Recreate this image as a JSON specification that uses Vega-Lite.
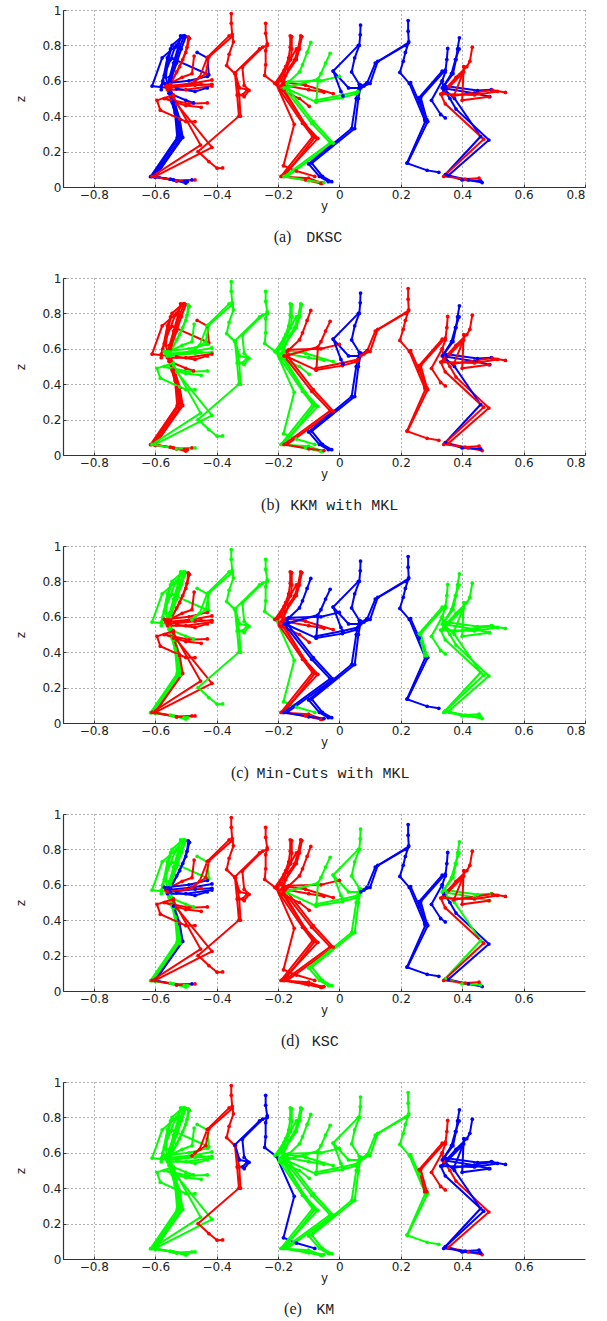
{"$schema":"https://vega.github.io/schema/vega-lite/v6.json","background":"white","padding":{"left":14,"top":4,"right":0,"bottom":40},"bounds":"flush","spacing":91,"config":{"view":{"stroke":null},"axis":{"grid":true,"gridColor":"#666666","gridDash":[1,3],"gridWidth":1,"domainColor":"#333333","domainWidth":1.2,"tickColor":"#333333","tickSize":-3,"labelFont":"DejaVu Sans","labelFontSize":12,"labelColor":"#222222","labelOverlap":false,"labelSeparation":0,"titleFont":"DejaVu Sans","titleFontSize":12,"titleFontWeight":"normal","titleColor":"#222222","labelPadding":5}},
"datasets":{
"colors":[
{"s":"L1","a":"b","b":"r","c":"g","d":"g","e":"g"},{"s":"L1b","a":"b","b":"r","c":"g","d":"g","e":"g"},{"s":"L1c","a":"b","b":"r","c":"g","d":"g","e":"g"},{"s":"L1d","a":"b","b":"r","c":"g","d":"g","e":"g"},{"s":"L1e","a":"b","b":"r","c":"g","d":"g","e":"g"},{"s":"L1f","a":"b","b":"r","c":"g","d":"g","e":"g"},{"s":"L1arm","a":"b","b":"r","c":"g","d":"g","e":"g"},{"s":"L1arm2","a":"b","b":"r","c":"g","d":"g","e":"g"},{"s":"L1hand","a":"b","b":"r","c":"g","d":"g","e":"g"},{"s":"L1low","a":"b","b":"r","c":"g","d":"g","e":"g"},
{"s":"L2","a":"r","b":"g","c":"r","d":"b","e":"g"},{"s":"L2c","a":"r","b":"g","c":"r","d":"b","e":"g"},{"s":"L2b","a":"b","b":"r","c":"r","d":"b","e":"g"},{"s":"L3","a":"r","b":"g","c":"r","d":"r","e":"g"},
{"s":"LA1","a":"b","b":"g","c":"r","d":"b","e":"g"},{"s":"LA2","a":"r","b":"g","c":"r","d":"b","e":"g"},{"s":"LA3","a":"r","b":"g","c":"r","d":"b","e":"g"},{"s":"LA4","a":"r","b":"r","c":"r","d":"b","e":"g"},{"s":"LA5","a":"b","b":"r","c":"r","d":"b","e":"g"},{"s":"LA6","a":"r","b":"g","c":"r","d":"r","e":"g"},
{"s":"LB1","a":"r","b":"g","c":"r","d":"r","e":"g"},{"s":"LB2","a":"r","b":"g","c":"r","d":"r","e":"g"},{"s":"LB3","a":"r","b":"g","c":"r","d":"r","e":"g"},
{"s":"LL1","a":"r","b":"g","c":"r","d":"r","e":"g"},{"s":"LL2","a":"r","b":"g","c":"r","d":"r","e":"g"},
{"s":"P35","a":"r","b":"g","c":"g","d":"r","e":"r"},{"s":"P35b","a":"r","b":"g","c":"g","d":"r","e":"r"},{"s":"P35arm","a":"r","b":"g","c":"g","d":"r","e":"r"},{"s":"P35arm2","a":"r","b":"g","c":"g","d":"r","e":"r"},
{"s":"P24","a":"r","b":"g","c":"g","d":"r","e":"b"},{"s":"P24arm","a":"r","b":"g","c":"g","d":"r","e":"b"},{"s":"P24arm2","a":"r","b":"g","c":"g","d":"r","e":"b"},
{"s":"C16","a":"r","b":"g","c":"r","d":"r","e":"g"},{"s":"C16b","a":"r","b":"g","c":"r","d":"r","e":"g"},{"s":"C16c","a":"r","b":"g","c":"r","d":"r","e":"g"},{"s":"C12","a":"r","b":"g","c":"r","d":"r","e":"g"},{"s":"C12b","a":"r","b":"g","c":"r","d":"r","e":"g"},{"s":"C12c","a":"r","b":"g","c":"r","d":"r","e":"g"},{"s":"CA1","a":"r","b":"g","c":"r","d":"r","e":"g"},{"s":"CA2","a":"r","b":"g","c":"r","d":"r","e":"g"},{"s":"CA3","a":"r","b":"g","c":"r","d":"r","e":"g"},
{"s":"C09","a":"g","b":"r","c":"b","d":"r","e":"g"},{"s":"C09b","a":"g","b":"r","c":"b","d":"r","e":"g"},{"s":"C09arm","a":"g","b":"r","c":"b","d":"r","e":"g"},
{"s":"C03","a":"g","b":"r","c":"b","d":"g","e":"g"},{"s":"C03b","a":"g","b":"r","c":"b","d":"g","e":"g"},{"s":"C03arm","a":"g","b":"r","c":"b","d":"g","e":"g"},{"s":"C03armb","a":"g","b":"r","c":"b","d":"g","e":"g"},
{"s":"C06","a":"b","b":"b","c":"b","d":"g","e":"g"},{"s":"C06b","a":"b","b":"b","c":"b","d":"g","e":"g"},{"s":"C06arm","a":"b","b":"b","c":"b","d":"g","e":"g"},{"s":"C06arm2","a":"b","b":"b","c":"b","d":"g","e":"g"},
{"s":"R22","a":"b","b":"r","c":"b","d":"b","e":"g"},{"s":"R22b","a":"b","b":"r","c":"b","d":"b","e":"g"},{"s":"R22arm","a":"b","b":"r","c":"b","d":"b","e":"g"},{"s":"R22armb","a":"b","b":"r","c":"b","d":"b","e":"g"},
{"s":"R36","a":"b","b":"r","c":"g","d":"b","e":"r"},{"s":"R36arm","a":"b","b":"r","c":"g","d":"b","e":"r"},{"s":"R36armb","a":"b","b":"r","c":"g","d":"b","e":"r"},{"s":"R36arm2","a":"b","b":"r","c":"g","d":"b","e":"r"},
{"s":"R39","a":"b","b":"b","c":"g","d":"g","e":"b"},{"s":"R39b","a":"b","b":"b","c":"g","d":"g","e":"b"},{"s":"R39arm","a":"b","b":"b","c":"g","d":"g","e":"b"},{"s":"R39armb","a":"b","b":"b","c":"g","d":"g","e":"b"},
{"s":"R43","a":"r","b":"r","c":"g","d":"r","e":"b"},{"s":"R43arm","a":"r","b":"r","c":"g","d":"r","e":"b"},{"s":"R43armb","a":"r","b":"r","c":"g","d":"r","e":"b"},{"s":"R43armc","a":"r","b":"r","c":"g","d":"r","e":"b"}
],
"caps":[
{"p":"a","f":"s","x":-0.214,"y":-0.283,"t":"(a)"},{"p":"a","f":"m","x":-0.108,"y":-0.283,"t":"DKSC"},
{"p":"b","f":"s","x":-0.255,"y":-0.283,"t":"(b)"},{"p":"b","f":"m","x":-0.16,"y":-0.283,"t":"KKM with MKL"},
{"p":"c","f":"s","x":-0.353,"y":-0.283,"t":"(c)"},{"p":"c","f":"m","x":-0.27,"y":-0.283,"t":"Min-Cuts with MKL"},
{"p":"d","f":"s","x":-0.19,"y":-0.283,"t":"(d)"},{"p":"d","f":"m","x":-0.09,"y":-0.283,"t":"KSC"},
{"p":"e","f":"s","x":-0.18,"y":-0.283,"t":"(e)"},{"p":"e","f":"m","x":-0.075,"y":-0.283,"t":"KM"}
],
"pts":[
{"s":"L1","i":0,"x":-0.517,"y":0.854},{"s":"L1","i":1,"x":-0.525,"y":0.79},{"s":"L1","i":2,"x":-0.54,"y":0.7},{"s":"L1","i":3,"x":-0.553,"y":0.62},{"s":"L1","i":4,"x":-0.56,"y":0.565},{"s":"L1","i":5,"x":-0.545,"y":0.48},{"s":"L1","i":6,"x":-0.53,"y":0.38},{"s":"L1","i":7,"x":-0.523,"y":0.278},{"s":"L1","i":8,"x":-0.61,"y":0.06},{"s":"L1","i":9,"x":-0.54,"y":0.04},{"s":"L1","i":10,"x":-0.5,"y":0.022},
{"s":"L1b","i":0,"x":-0.505,"y":0.855},{"s":"L1b","i":1,"x":-0.52,"y":0.79},{"s":"L1b","i":2,"x":-0.535,"y":0.7},{"s":"L1b","i":3,"x":-0.548,"y":0.62},{"s":"L1b","i":4,"x":-0.55,"y":0.56},{"s":"L1b","i":5,"x":-0.535,"y":0.47},{"s":"L1b","i":6,"x":-0.52,"y":0.38},{"s":"L1b","i":7,"x":-0.515,"y":0.278},{"s":"L1b","i":8,"x":-0.605,"y":0.06},{"s":"L1b","i":9,"x":-0.53,"y":0.035},{"s":"L1b","i":10,"x":-0.495,"y":0.03},
{"s":"L1c","i":0,"x":-0.512,"y":0.85},{"s":"L1c","i":1,"x":-0.545,"y":0.8},{"s":"L1c","i":2,"x":-0.56,"y":0.7},{"s":"L1c","i":3,"x":-0.565,"y":0.62},{"s":"L1c","i":4,"x":-0.555,"y":0.55},{"s":"L1c","i":5,"x":-0.54,"y":0.47},{"s":"L1c","i":6,"x":-0.525,"y":0.38},{"s":"L1c","i":7,"x":-0.518,"y":0.27},{"s":"L1c","i":8,"x":-0.6,"y":0.055},
{"s":"L1d","i":0,"x":-0.51,"y":0.853},{"s":"L1d","i":1,"x":-0.535,"y":0.79},{"s":"L1d","i":2,"x":-0.55,"y":0.72},{"s":"L1d","i":3,"x":-0.57,"y":0.63},{"s":"L1d","i":4,"x":-0.58,"y":0.57},
{"s":"L1e","i":0,"x":-0.5,"y":0.85},{"s":"L1e","i":1,"x":-0.515,"y":0.78},{"s":"L1e","i":2,"x":-0.53,"y":0.7},{"s":"L1e","i":3,"x":-0.55,"y":0.6},
{"s":"L1f","i":0,"x":-0.56,"y":0.56},{"s":"L1f","i":1,"x":-0.535,"y":0.42},{"s":"L1f","i":2,"x":-0.528,"y":0.28},{"s":"L1f","i":3,"x":-0.615,"y":0.058},{"s":"L1f","i":4,"x":-0.55,"y":0.045},{"s":"L1f","i":5,"x":-0.505,"y":0.03},
{"s":"L1arm","i":0,"x":-0.53,"y":0.8},{"s":"L1arm","i":1,"x":-0.577,"y":0.73},{"s":"L1arm","i":2,"x":-0.61,"y":0.57},{"s":"L1arm","i":3,"x":-0.56,"y":0.56},
{"s":"L1arm2","i":0,"x":-0.55,"y":0.78},{"s":"L1arm2","i":1,"x":-0.56,"y":0.73},{"s":"L1arm2","i":2,"x":-0.575,"y":0.6},{"s":"L1arm2","i":3,"x":-0.58,"y":0.55},
{"s":"L1hand","i":0,"x":-0.545,"y":0.727},{"s":"L1hand","i":1,"x":-0.425,"y":0.634},{"s":"L1hand","i":2,"x":-0.43,"y":0.73},{"s":"L1hand","i":3,"x":-0.463,"y":0.76},
{"s":"L1low","i":0,"x":-0.555,"y":0.53},{"s":"L1low","i":1,"x":-0.5,"y":0.49},{"s":"L1low","i":2,"x":-0.475,"y":0.475},
{"s":"L2","i":0,"x":-0.492,"y":0.848},{"s":"L2","i":1,"x":-0.496,"y":0.79},{"s":"L2","i":2,"x":-0.51,"y":0.72},{"s":"L2","i":3,"x":-0.53,"y":0.65},{"s":"L2","i":4,"x":-0.555,"y":0.57},
{"s":"L2c","i":0,"x":-0.488,"y":0.84},{"s":"L2c","i":1,"x":-0.5,"y":0.76},{"s":"L2c","i":2,"x":-0.52,"y":0.68},{"s":"L2c","i":3,"x":-0.55,"y":0.58},
{"s":"L2b","i":0,"x":-0.54,"y":0.48},{"s":"L2b","i":1,"x":-0.52,"y":0.38},{"s":"L2b","i":2,"x":-0.51,"y":0.28},{"s":"L2b","i":3,"x":-0.6,"y":0.06},{"s":"L2b","i":4,"x":-0.53,"y":0.035},{"s":"L2b","i":5,"x":-0.48,"y":0.04},
{"s":"L3","i":0,"x":-0.473,"y":0.74},{"s":"L3","i":1,"x":-0.48,"y":0.64},{"s":"L3","i":2,"x":-0.512,"y":0.62},{"s":"L3","i":3,"x":-0.566,"y":0.573},
{"s":"LA1","i":0,"x":-0.57,"y":0.585},{"s":"LA1","i":1,"x":-0.49,"y":0.6},{"s":"LA1","i":2,"x":-0.43,"y":0.625},
{"s":"LA2","i":0,"x":-0.56,"y":0.57},{"s":"LA2","i":1,"x":-0.48,"y":0.585},{"s":"LA2","i":2,"x":-0.415,"y":0.605},
{"s":"LA3","i":0,"x":-0.55,"y":0.56},{"s":"LA3","i":1,"x":-0.47,"y":0.575},{"s":"LA3","i":2,"x":-0.415,"y":0.58},
{"s":"LA4","i":0,"x":-0.56,"y":0.55},{"s":"LA4","i":1,"x":-0.5,"y":0.55},{"s":"LA4","i":2,"x":-0.415,"y":0.57},
{"s":"LA5","i":0,"x":-0.53,"y":0.555},{"s":"LA5","i":1,"x":-0.47,"y":0.54},{"s":"LA5","i":2,"x":-0.43,"y":0.56},
{"s":"LA6","i":0,"x":-0.56,"y":0.56},{"s":"LA6","i":1,"x":-0.5,"y":0.575},{"s":"LA6","i":2,"x":-0.45,"y":0.58},
{"s":"LB1","i":0,"x":-0.54,"y":0.52},{"s":"LB1","i":1,"x":-0.594,"y":0.49},{"s":"LB1","i":2,"x":-0.583,"y":0.434},{"s":"LB1","i":3,"x":-0.52,"y":0.385},{"s":"LB1","i":4,"x":-0.5,"y":0.37},{"s":"LB1","i":5,"x":-0.47,"y":0.37},
{"s":"LB2","i":0,"x":-0.57,"y":0.5},{"s":"LB2","i":1,"x":-0.49,"y":0.47},{"s":"LB2","i":2,"x":-0.43,"y":0.475},
{"s":"LB3","i":0,"x":-0.57,"y":0.5},{"s":"LB3","i":1,"x":-0.5,"y":0.46},{"s":"LB3","i":2,"x":-0.45,"y":0.45},
{"s":"LL1","i":0,"x":-0.54,"y":0.508},{"s":"LL1","i":1,"x":-0.452,"y":0.237},{"s":"LL1","i":2,"x":-0.61,"y":0.06},{"s":"LL1","i":3,"x":-0.53,"y":0.035},{"s":"LL1","i":4,"x":-0.47,"y":0.04},
{"s":"LL2","i":0,"x":-0.53,"y":0.47},{"s":"LL2","i":1,"x":-0.415,"y":0.224},{"s":"LL2","i":2,"x":-0.6,"y":0.06},
{"s":"P35","i":0,"x":-0.352,"y":0.98},{"s":"P35","i":1,"x":-0.352,"y":0.925},{"s":"P35","i":2,"x":-0.349,"y":0.863},{"s":"P35","i":3,"x":-0.345,"y":0.82},{"s":"P35","i":4,"x":-0.359,"y":0.75},{"s":"P35","i":5,"x":-0.367,"y":0.686},{"s":"P35","i":6,"x":-0.34,"y":0.64},{"s":"P35","i":7,"x":-0.333,"y":0.52},{"s":"P35","i":8,"x":-0.327,"y":0.4},{"s":"P35","i":9,"x":-0.46,"y":0.2},{"s":"P35","i":10,"x":-0.425,"y":0.144},{"s":"P35","i":11,"x":-0.398,"y":0.106},{"s":"P35","i":12,"x":-0.38,"y":0.108},
{"s":"P35b","i":0,"x":-0.338,"y":0.64},{"s":"P35b","i":1,"x":-0.326,"y":0.52},{"s":"P35b","i":2,"x":-0.322,"y":0.4},
{"s":"P35arm","i":0,"x":-0.359,"y":0.854},{"s":"P35arm","i":1,"x":-0.43,"y":0.733},{"s":"P35arm","i":2,"x":-0.455,"y":0.62},{"s":"P35arm","i":3,"x":-0.48,"y":0.583},
{"s":"P35arm2","i":0,"x":-0.349,"y":0.85},{"s":"P35arm2","i":1,"x":-0.425,"y":0.735},{"s":"P35arm2","i":2,"x":-0.435,"y":0.64},{"s":"P35arm2","i":3,"x":-0.47,"y":0.6},
{"s":"P24","i":0,"x":-0.24,"y":0.925},{"s":"P24","i":1,"x":-0.24,"y":0.868},{"s":"P24","i":2,"x":-0.235,"y":0.81},{"s":"P24","i":3,"x":-0.24,"y":0.77},{"s":"P24","i":4,"x":-0.24,"y":0.69},{"s":"P24","i":5,"x":-0.243,"y":0.63},{"s":"P24","i":6,"x":-0.205,"y":0.58},{"s":"P24","i":7,"x":-0.147,"y":0.354},{"s":"P24","i":8,"x":-0.182,"y":0.12},{"s":"P24","i":9,"x":-0.14,"y":0.09},{"s":"P24","i":10,"x":-0.08,"y":0.06},
{"s":"P24arm","i":0,"x":-0.25,"y":0.79},{"s":"P24arm","i":1,"x":-0.316,"y":0.677},{"s":"P24arm","i":2,"x":-0.31,"y":0.574},{"s":"P24arm","i":3,"x":-0.294,"y":0.546},{"s":"P24arm","i":4,"x":-0.31,"y":0.51},
{"s":"P24arm2","i":0,"x":-0.235,"y":0.8},{"s":"P24arm2","i":1,"x":-0.26,"y":0.78},{"s":"P24arm2","i":2,"x":-0.34,"y":0.645},{"s":"P24arm2","i":3,"x":-0.325,"y":0.56},{"s":"P24arm2","i":4,"x":-0.3,"y":0.55},{"s":"P24arm2","i":5,"x":-0.315,"y":0.52},
{"s":"C16","i":0,"x":-0.16,"y":0.854},{"s":"C16","i":1,"x":-0.16,"y":0.79},{"s":"C16","i":2,"x":-0.165,"y":0.73},{"s":"C16","i":3,"x":-0.175,"y":0.68},{"s":"C16","i":4,"x":-0.2,"y":0.59},{"s":"C16","i":5,"x":-0.195,"y":0.55},{"s":"C16","i":6,"x":-0.12,"y":0.36},{"s":"C16","i":7,"x":-0.087,"y":0.284},{"s":"C16","i":8,"x":-0.19,"y":0.06},{"s":"C16","i":9,"x":-0.1,"y":0.05},{"s":"C16","i":10,"x":-0.055,"y":0.022},
{"s":"C16b","i":0,"x":-0.185,"y":0.55},{"s":"C16b","i":1,"x":-0.115,"y":0.36},{"s":"C16b","i":2,"x":-0.08,"y":0.28},{"s":"C16b","i":3,"x":-0.18,"y":0.06},
{"s":"C16c","i":0,"x":-0.155,"y":0.85},{"s":"C16c","i":1,"x":-0.155,"y":0.78},{"s":"C16c","i":2,"x":-0.158,"y":0.72},{"s":"C16c","i":3,"x":-0.18,"y":0.66},{"s":"C16c","i":4,"x":-0.21,"y":0.585},
{"s":"C12","i":0,"x":-0.126,"y":0.854},{"s":"C12","i":1,"x":-0.135,"y":0.78},{"s":"C12","i":2,"x":-0.145,"y":0.72},{"s":"C12","i":3,"x":-0.165,"y":0.67},{"s":"C12","i":4,"x":-0.185,"y":0.58},{"s":"C12","i":5,"x":-0.18,"y":0.55},{"s":"C12","i":6,"x":-0.11,"y":0.35},{"s":"C12","i":7,"x":-0.07,"y":0.275},{"s":"C12","i":8,"x":-0.185,"y":0.06},{"s":"C12","i":9,"x":-0.11,"y":0.04},{"s":"C12","i":10,"x":-0.06,"y":0.02},
{"s":"C12b","i":0,"x":-0.14,"y":0.78},{"s":"C12b","i":1,"x":-0.16,"y":0.72},{"s":"C12b","i":2,"x":-0.19,"y":0.6},
{"s":"C12c","i":0,"x":-0.122,"y":0.85},{"s":"C12c","i":1,"x":-0.13,"y":0.78},{"s":"C12c","i":2,"x":-0.14,"y":0.72},{"s":"C12c","i":3,"x":-0.175,"y":0.63},{"s":"C12c","i":4,"x":-0.19,"y":0.57},
{"s":"CA1","i":0,"x":-0.175,"y":0.59},{"s":"CA1","i":1,"x":-0.11,"y":0.575},{"s":"CA1","i":2,"x":-0.02,"y":0.527},
{"s":"CA2","i":0,"x":-0.185,"y":0.545},{"s":"CA2","i":1,"x":-0.13,"y":0.5},{"s":"CA2","i":2,"x":-0.098,"y":0.456},
{"s":"CA3","i":0,"x":-0.18,"y":0.575},{"s":"CA3","i":1,"x":-0.1,"y":0.55},{"s":"CA3","i":2,"x":-0.05,"y":0.535},
{"s":"C09","i":0,"x":-0.093,"y":0.817},{"s":"C09","i":1,"x":-0.105,"y":0.76},{"s":"C09","i":2,"x":-0.12,"y":0.69},{"s":"C09","i":3,"x":-0.13,"y":0.65},{"s":"C09","i":4,"x":-0.17,"y":0.585},{"s":"C09","i":5,"x":-0.18,"y":0.56},{"s":"C09","i":6,"x":-0.09,"y":0.36},{"s":"C09","i":7,"x":-0.03,"y":0.25},{"s":"C09","i":8,"x":-0.18,"y":0.06},{"s":"C09","i":9,"x":-0.1,"y":0.035},{"s":"C09","i":10,"x":-0.05,"y":0.025},
{"s":"C09b","i":0,"x":-0.17,"y":0.56},{"s":"C09b","i":1,"x":-0.085,"y":0.37},{"s":"C09b","i":2,"x":-0.02,"y":0.248},{"s":"C09b","i":3,"x":-0.17,"y":0.06},
{"s":"C09arm","i":0,"x":-0.165,"y":0.595},{"s":"C09arm","i":1,"x":-0.06,"y":0.6},{"s":"C09arm","i":2,"x":0.0,"y":0.625},
{"s":"C03","i":0,"x":-0.03,"y":0.755},{"s":"C03","i":1,"x":-0.045,"y":0.7},{"s":"C03","i":2,"x":-0.06,"y":0.64},{"s":"C03","i":3,"x":-0.07,"y":0.61},{"s":"C03","i":4,"x":-0.165,"y":0.565},
{"s":"C03b","i":0,"x":-0.17,"y":0.555},{"s":"C03b","i":1,"x":-0.075,"y":0.48},{"s":"C03b","i":2,"x":-0.07,"y":0.6},
{"s":"C03arm","i":0,"x":-0.076,"y":0.48},{"s":"C03arm","i":1,"x":0.01,"y":0.505},{"s":"C03arm","i":2,"x":0.055,"y":0.527},
{"s":"C03armb","i":0,"x":-0.076,"y":0.49},{"s":"C03armb","i":1,"x":0.01,"y":0.52},{"s":"C03armb","i":2,"x":0.06,"y":0.54},
{"s":"C06","i":0,"x":0.069,"y":0.915},{"s":"C06","i":1,"x":0.068,"y":0.86},{"s":"C06","i":2,"x":0.065,"y":0.8},{"s":"C06","i":3,"x":0.05,"y":0.73},{"s":"C06","i":4,"x":0.04,"y":0.65},{"s":"C06","i":5,"x":0.065,"y":0.58},{"s":"C06","i":6,"x":0.055,"y":0.5},{"s":"C06","i":7,"x":0.04,"y":0.33},{"s":"C06","i":8,"x":-0.1,"y":0.13},{"s":"C06","i":9,"x":-0.065,"y":0.06},{"s":"C06","i":10,"x":-0.036,"y":0.03},
{"s":"C06b","i":0,"x":0.07,"y":0.575},{"s":"C06b","i":1,"x":0.062,"y":0.5},{"s":"C06b","i":2,"x":0.05,"y":0.33},{"s":"C06b","i":3,"x":-0.09,"y":0.135},{"s":"C06b","i":4,"x":-0.055,"y":0.06},{"s":"C06b","i":5,"x":-0.025,"y":0.03},
{"s":"C06arm","i":0,"x":0.062,"y":0.8},{"s":"C06arm","i":1,"x":-0.02,"y":0.655},{"s":"C06arm","i":2,"x":0.005,"y":0.54},{"s":"C06arm","i":3,"x":0.012,"y":0.515},
{"s":"C06arm2","i":0,"x":-0.02,"y":0.655},{"s":"C06arm2","i":1,"x":0.03,"y":0.56},{"s":"C06arm2","i":2,"x":0.065,"y":0.56},{"s":"C06arm2","i":3,"x":0.09,"y":0.59},
{"s":"R22","i":0,"x":0.224,"y":0.94},{"s":"R22","i":1,"x":0.224,"y":0.88},{"s":"R22","i":2,"x":0.226,"y":0.82},{"s":"R22","i":3,"x":0.215,"y":0.76},{"s":"R22","i":4,"x":0.208,"y":0.71},{"s":"R22","i":5,"x":0.197,"y":0.647},{"s":"R22","i":6,"x":0.228,"y":0.585},{"s":"R22","i":7,"x":0.28,"y":0.37},{"s":"R22","i":8,"x":0.22,"y":0.135},{"s":"R22","i":9,"x":0.286,"y":0.094},{"s":"R22","i":10,"x":0.324,"y":0.083},
{"s":"R22b","i":0,"x":0.232,"y":0.59},{"s":"R22b","i":1,"x":0.26,"y":0.48},{"s":"R22b","i":2,"x":0.288,"y":0.37},{"s":"R22b","i":3,"x":0.222,"y":0.135},
{"s":"R22arm","i":0,"x":0.215,"y":0.8},{"s":"R22arm","i":1,"x":0.117,"y":0.7},{"s":"R22arm","i":2,"x":0.09,"y":0.585},{"s":"R22arm","i":3,"x":0.07,"y":0.56},
{"s":"R22armb","i":0,"x":0.225,"y":0.815},{"s":"R22armb","i":1,"x":0.125,"y":0.71},{"s":"R22armb","i":2,"x":0.1,"y":0.585},{"s":"R22armb","i":3,"x":0.08,"y":0.57},
{"s":"R36","i":0,"x":0.353,"y":0.783},{"s":"R36","i":1,"x":0.35,"y":0.72},{"s":"R36","i":2,"x":0.345,"y":0.65},{"s":"R36","i":3,"x":0.335,"y":0.6},{"s":"R36","i":4,"x":0.34,"y":0.55},{"s":"R36","i":5,"x":0.36,"y":0.5},{"s":"R36","i":6,"x":0.38,"y":0.44},{"s":"R36","i":7,"x":0.487,"y":0.265},{"s":"R36","i":8,"x":0.355,"y":0.065},{"s":"R36","i":9,"x":0.42,"y":0.04},{"s":"R36","i":10,"x":0.465,"y":0.025},
{"s":"R36arm","i":0,"x":0.345,"y":0.66},{"s":"R36arm","i":1,"x":0.265,"y":0.505},{"s":"R36arm","i":2,"x":0.285,"y":0.38},
{"s":"R36armb","i":0,"x":0.335,"y":0.655},{"s":"R36armb","i":1,"x":0.26,"y":0.505},{"s":"R36armb","i":2,"x":0.278,"y":0.38},
{"s":"R36arm2","i":0,"x":0.335,"y":0.6},{"s":"R36arm2","i":1,"x":0.3,"y":0.49},{"s":"R36arm2","i":2,"x":0.33,"y":0.41},{"s":"R36arm2","i":3,"x":0.345,"y":0.39},
{"s":"R39","i":0,"x":0.391,"y":0.843},{"s":"R39","i":1,"x":0.385,"y":0.78},{"s":"R39","i":2,"x":0.38,"y":0.72},{"s":"R39","i":3,"x":0.37,"y":0.64},{"s":"R39","i":4,"x":0.335,"y":0.56},{"s":"R39","i":5,"x":0.375,"y":0.5},{"s":"R39","i":6,"x":0.46,"y":0.285},{"s":"R39","i":7,"x":0.345,"y":0.07},{"s":"R39","i":8,"x":0.4,"y":0.04},{"s":"R39","i":9,"x":0.46,"y":0.035},
{"s":"R39b","i":0,"x":0.39,"y":0.78},{"s":"R39b","i":1,"x":0.378,"y":0.72},{"s":"R39b","i":2,"x":0.365,"y":0.64},{"s":"R39b","i":3,"x":0.34,"y":0.57},
{"s":"R39arm","i":0,"x":0.345,"y":0.57},{"s":"R39arm","i":1,"x":0.45,"y":0.545},{"s":"R39arm","i":2,"x":0.495,"y":0.55},
{"s":"R39armb","i":0,"x":0.35,"y":0.555},{"s":"R39armb","i":1,"x":0.44,"y":0.53},{"s":"R39armb","i":2,"x":0.49,"y":0.51},
{"s":"R43","i":0,"x":0.433,"y":0.79},{"s":"R43","i":1,"x":0.425,"y":0.71},{"s":"R43","i":2,"x":0.415,"y":0.68},{"s":"R43","i":3,"x":0.38,"y":0.62},{"s":"R43","i":4,"x":0.33,"y":0.525},{"s":"R43","i":5,"x":0.345,"y":0.47},{"s":"R43","i":6,"x":0.47,"y":0.27},{"s":"R43","i":7,"x":0.34,"y":0.06},{"s":"R43","i":8,"x":0.41,"y":0.045},{"s":"R43","i":9,"x":0.455,"y":0.05},
{"s":"R43arm","i":0,"x":0.4,"y":0.632},{"s":"R43arm","i":1,"x":0.373,"y":0.516},{"s":"R43arm","i":2,"x":0.498,"y":0.548},{"s":"R43arm","i":3,"x":0.541,"y":0.534},
{"s":"R43armb","i":0,"x":0.405,"y":0.68},{"s":"R43armb","i":1,"x":0.4,"y":0.49},{"s":"R43armb","i":2,"x":0.487,"y":0.51},
{"s":"R43armc","i":0,"x":0.405,"y":0.65},{"s":"R43armc","i":1,"x":0.335,"y":0.525},{"s":"R43armc","i":2,"x":0.44,"y":0.52},{"s":"R43armc","i":3,"x":0.515,"y":0.54}
]},
"vconcat":[
{"width":522,"height":177,"layer":[
{"data":{"name":"pts"},"transform":[{"lookup":"s","from":{"data":{"name":"colors"},"key":"s","fields":["a"]}}],"mark":{"type":"line","strokeWidth":2,"clip":false},"encoding":{"x":{"field":"x","type":"quantitative","scale":{"domain":[-0.9,0.8],"nice":false,"zero":false},"axis":{"title":"y","titlePadding":0,"labelOverlap":false,"values":[-0.8,-0.6,-0.4,-0.2,0,0.2,0.4,0.6,0.8],"format":"~g"}},"y":{"field":"y","type":"quantitative","scale":{"domain":[0,1],"nice":false,"zero":false},"axis":{"title":"z","titlePadding":14,"labelOverlap":false,"tickCount":6,"values":[0,0.2,0.4,0.6,0.8,1],"format":"~g"}},"detail":{"field":"s"},"order":{"field":"i"},"color":{"field":"a","type":"nominal","scale":{"domain":["r","g","b"],"range":["#ff0000","#00ff00","#0000ff"]},"legend":null}}},
{"data":{"name":"pts"},"transform":[{"lookup":"s","from":{"data":{"name":"colors"},"key":"s","fields":["a"]}}],"mark":{"type":"point","filled":true,"shape":"circle","size":14,"opacity":1},"encoding":{"x":{"field":"x","type":"quantitative"},"y":{"field":"y","type":"quantitative"},"color":{"field":"a","type":"nominal","legend":null}}},
{"data":{"name":"caps"},"transform":[{"filter":"datum.p=='a'&&datum.f=='s'"}],"mark":{"type":"text","align":"left","font":"Liberation Serif","fontSize":16,"color":"#222222"},"encoding":{"x":{"field":"x","type":"quantitative"},"y":{"field":"y","type":"quantitative"},"text":{"field":"t"}}},
{"data":{"name":"caps"},"transform":[{"filter":"datum.p=='a'&&datum.f=='m'"}],"mark":{"type":"text","align":"left","font":"Liberation Mono","fontSize":15,"color":"#222222"},"encoding":{"x":{"field":"x","type":"quantitative"},"y":{"field":"y","type":"quantitative"},"text":{"field":"t"}}}
]},
{"width":522,"height":177,"layer":[
{"data":{"name":"pts"},"transform":[{"lookup":"s","from":{"data":{"name":"colors"},"key":"s","fields":["b"]}}],"mark":{"type":"line","strokeWidth":2,"clip":false},"encoding":{"x":{"field":"x","type":"quantitative","scale":{"domain":[-0.9,0.8],"nice":false,"zero":false},"axis":{"title":"y","titlePadding":0,"labelOverlap":false,"values":[-0.8,-0.6,-0.4,-0.2,0,0.2,0.4,0.6,0.8],"format":"~g"}},"y":{"field":"y","type":"quantitative","scale":{"domain":[0,1],"nice":false,"zero":false},"axis":{"title":"z","titlePadding":14,"labelOverlap":false,"tickCount":6,"values":[0,0.2,0.4,0.6,0.8,1],"format":"~g"}},"detail":{"field":"s"},"order":{"field":"i"},"color":{"field":"b","type":"nominal","scale":{"domain":["r","g","b"],"range":["#ff0000","#00ff00","#0000ff"]},"legend":null}}},
{"data":{"name":"pts"},"transform":[{"lookup":"s","from":{"data":{"name":"colors"},"key":"s","fields":["b"]}}],"mark":{"type":"point","filled":true,"shape":"circle","size":14,"opacity":1},"encoding":{"x":{"field":"x","type":"quantitative"},"y":{"field":"y","type":"quantitative"},"color":{"field":"b","type":"nominal","legend":null}}},
{"data":{"name":"caps"},"transform":[{"filter":"datum.p=='b'&&datum.f=='s'"}],"mark":{"type":"text","align":"left","font":"Liberation Serif","fontSize":16,"color":"#222222"},"encoding":{"x":{"field":"x","type":"quantitative"},"y":{"field":"y","type":"quantitative"},"text":{"field":"t"}}},
{"data":{"name":"caps"},"transform":[{"filter":"datum.p=='b'&&datum.f=='m'"}],"mark":{"type":"text","align":"left","font":"Liberation Mono","fontSize":15,"color":"#222222"},"encoding":{"x":{"field":"x","type":"quantitative"},"y":{"field":"y","type":"quantitative"},"text":{"field":"t"}}}
]},
{"width":522,"height":177,"layer":[
{"data":{"name":"pts"},"transform":[{"lookup":"s","from":{"data":{"name":"colors"},"key":"s","fields":["c"]}}],"mark":{"type":"line","strokeWidth":2,"clip":false},"encoding":{"x":{"field":"x","type":"quantitative","scale":{"domain":[-0.9,0.8],"nice":false,"zero":false},"axis":{"title":"y","titlePadding":0,"labelOverlap":false,"values":[-0.8,-0.6,-0.4,-0.2,0,0.2,0.4,0.6,0.8],"format":"~g"}},"y":{"field":"y","type":"quantitative","scale":{"domain":[0,1],"nice":false,"zero":false},"axis":{"title":"z","titlePadding":14,"labelOverlap":false,"tickCount":6,"values":[0,0.2,0.4,0.6,0.8,1],"format":"~g"}},"detail":{"field":"s"},"order":{"field":"i"},"color":{"field":"c","type":"nominal","scale":{"domain":["r","g","b"],"range":["#ff0000","#00ff00","#0000ff"]},"legend":null}}},
{"data":{"name":"pts"},"transform":[{"lookup":"s","from":{"data":{"name":"colors"},"key":"s","fields":["c"]}}],"mark":{"type":"point","filled":true,"shape":"circle","size":14,"opacity":1},"encoding":{"x":{"field":"x","type":"quantitative"},"y":{"field":"y","type":"quantitative"},"color":{"field":"c","type":"nominal","legend":null}}},
{"data":{"name":"caps"},"transform":[{"filter":"datum.p=='c'&&datum.f=='s'"}],"mark":{"type":"text","align":"left","font":"Liberation Serif","fontSize":16,"color":"#222222"},"encoding":{"x":{"field":"x","type":"quantitative"},"y":{"field":"y","type":"quantitative"},"text":{"field":"t"}}},
{"data":{"name":"caps"},"transform":[{"filter":"datum.p=='c'&&datum.f=='m'"}],"mark":{"type":"text","align":"left","font":"Liberation Mono","fontSize":15,"color":"#222222"},"encoding":{"x":{"field":"x","type":"quantitative"},"y":{"field":"y","type":"quantitative"},"text":{"field":"t"}}}
]},
{"width":522,"height":177,"layer":[
{"data":{"name":"pts"},"transform":[{"lookup":"s","from":{"data":{"name":"colors"},"key":"s","fields":["d"]}}],"mark":{"type":"line","strokeWidth":2,"clip":false},"encoding":{"x":{"field":"x","type":"quantitative","scale":{"domain":[-0.9,0.8],"nice":false,"zero":false},"axis":{"title":"y","titlePadding":0,"labelOverlap":false,"values":[-0.8,-0.6,-0.4,-0.2,0,0.2,0.4,0.6],"format":"~g"}},"y":{"field":"y","type":"quantitative","scale":{"domain":[0,1],"nice":false,"zero":false},"axis":{"title":"z","titlePadding":14,"labelOverlap":false,"tickCount":6,"values":[0,0.2,0.4,0.6,0.8,1],"format":"~g"}},"detail":{"field":"s"},"order":{"field":"i"},"color":{"field":"d","type":"nominal","scale":{"domain":["r","g","b"],"range":["#ff0000","#00ff00","#0000ff"]},"legend":null}}},
{"data":{"name":"pts"},"transform":[{"lookup":"s","from":{"data":{"name":"colors"},"key":"s","fields":["d"]}}],"mark":{"type":"point","filled":true,"shape":"circle","size":14,"opacity":1},"encoding":{"x":{"field":"x","type":"quantitative"},"y":{"field":"y","type":"quantitative"},"color":{"field":"d","type":"nominal","legend":null}}},
{"data":{"name":"caps"},"transform":[{"filter":"datum.p=='d'&&datum.f=='s'"}],"mark":{"type":"text","align":"left","font":"Liberation Serif","fontSize":16,"color":"#222222"},"encoding":{"x":{"field":"x","type":"quantitative"},"y":{"field":"y","type":"quantitative"},"text":{"field":"t"}}},
{"data":{"name":"caps"},"transform":[{"filter":"datum.p=='d'&&datum.f=='m'"}],"mark":{"type":"text","align":"left","font":"Liberation Mono","fontSize":15,"color":"#222222"},"encoding":{"x":{"field":"x","type":"quantitative"},"y":{"field":"y","type":"quantitative"},"text":{"field":"t"}}}
]},
{"width":522,"height":177,"layer":[
{"data":{"name":"pts"},"transform":[{"lookup":"s","from":{"data":{"name":"colors"},"key":"s","fields":["e"]}}],"mark":{"type":"line","strokeWidth":2,"clip":false},"encoding":{"x":{"field":"x","type":"quantitative","scale":{"domain":[-0.9,0.8],"nice":false,"zero":false},"axis":{"title":"y","titlePadding":0,"labelOverlap":false,"values":[-0.8,-0.6,-0.4,-0.2,0,0.2,0.4,0.6],"format":"~g"}},"y":{"field":"y","type":"quantitative","scale":{"domain":[0,1],"nice":false,"zero":false},"axis":{"title":"z","titlePadding":14,"labelOverlap":false,"tickCount":6,"values":[0,0.2,0.4,0.6,0.8,1],"format":"~g"}},"detail":{"field":"s"},"order":{"field":"i"},"color":{"field":"e","type":"nominal","scale":{"domain":["r","g","b"],"range":["#ff0000","#00ff00","#0000ff"]},"legend":null}}},
{"data":{"name":"pts"},"transform":[{"lookup":"s","from":{"data":{"name":"colors"},"key":"s","fields":["e"]}}],"mark":{"type":"point","filled":true,"shape":"circle","size":14,"opacity":1},"encoding":{"x":{"field":"x","type":"quantitative"},"y":{"field":"y","type":"quantitative"},"color":{"field":"e","type":"nominal","legend":null}}},
{"data":{"name":"caps"},"transform":[{"filter":"datum.p=='e'&&datum.f=='s'"}],"mark":{"type":"text","align":"left","font":"Liberation Serif","fontSize":16,"color":"#222222"},"encoding":{"x":{"field":"x","type":"quantitative"},"y":{"field":"y","type":"quantitative"},"text":{"field":"t"}}},
{"data":{"name":"caps"},"transform":[{"filter":"datum.p=='e'&&datum.f=='m'"}],"mark":{"type":"text","align":"left","font":"Liberation Mono","fontSize":15,"color":"#222222"},"encoding":{"x":{"field":"x","type":"quantitative"},"y":{"field":"y","type":"quantitative"},"text":{"field":"t"}}}
]}
]}
